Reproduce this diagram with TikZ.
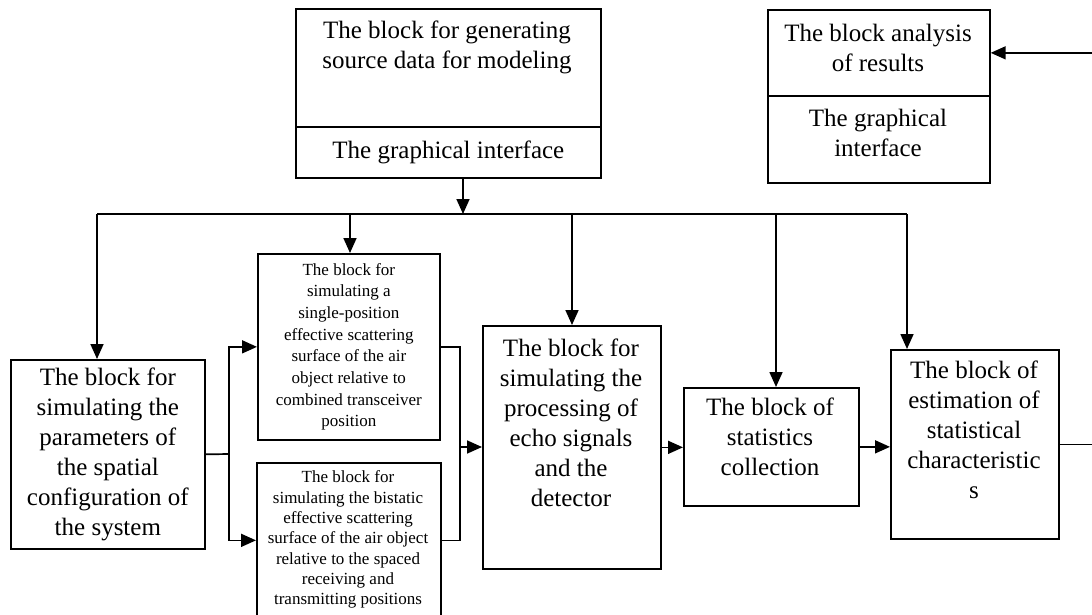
\documentclass[tikz,border=0pt]{standalone}
\usepackage{fontspec}
\setmainfont{Liberation Serif}
\usetikzlibrary{arrows.meta,positioning}

\begin{document}
\begin{tikzpicture}[
            x=1pt,
            y=-1pt,
            line width=1.7pt,
            block/.style={
                    rectangle,
                    draw=black,
                    inner sep=0pt,
                    anchor=north west
                },
            bigtext/.style={
                    align=center,
                    inner sep=0pt,
                    font=\fontsize{25}{30}\selectfont
                },
            smalltext/.style={
                    align=center,
                    inner sep=0pt,
                    font=\fontsize{17}{21.7}\selectfont
                },
            arrow/.style={
                    -{Triangle[length=15pt,width=13pt]}
                }
        ]

        \useasboundingbox (0,0) rectangle (1092,615);
        \clip (0,0) rectangle (1092,615);

        % top blocks
        \node[block, minimum width=305pt, minimum height=118pt] (gen) at (295,8) {};
        \node[bigtext, anchor=north] (gen-t) at (447,20) {The block for generating\\source data for modeling};
        \node[block, bigtext, minimum width=305pt, minimum height=51pt] (genui) at (295,126) {The graphical interface};

        \node[block, minimum width=222pt, minimum height=86pt] (ana) at (767,9) {};
        \node[bigtext, anchor=north] (ana-t) at (878,23) {The block analysis\\of results};
        \node[block, minimum width=222pt, minimum height=87pt] (anaui) at (767,95) {};
        \node[bigtext, anchor=north] (anaui-t) at (878,108) {The graphical\\interface};

        % simulation blocks
        \node[block, bigtext, minimum width=194pt, minimum height=189pt] (param) at (10,359)
            {The block for\\simulating the\\parameters of\\the spatial\\configuration of\\the system};
        \node[block, smalltext, minimum width=182pt, minimum height=186pt] (single) at (257,253)
            {The block for\\simulating a\\single-position\\effective scattering\\surface of the air\\object relative to\\combined transceiver\\position};
        \node[block, minimum width=184pt, minimum height=155pt] (bistatic) at (256,462) {};
        \node[smalltext, anchor=north, font=\fontsize{17}{20.3}\selectfont] (bistatic-t) at (348,470)
            {The block for\\simulating the bistatic\\effective scattering\\surface of the air object\\relative to the spaced\\receiving and\\transmitting positions};

        \node[block, minimum width=178pt, minimum height=243pt] (proc) at (482,325) {};
        \node[bigtext, anchor=north] (proc-t) at (571,338)
            {The block for\\simulating the\\processing of\\echo signals\\and the\\detector};
        \node[block, minimum width=175pt, minimum height=118pt] (stat) at (683,387) {};
        \node[bigtext, anchor=north] (stat-t) at (770,397) {The block of\\statistics\\collection};
        \node[block, minimum width=168pt, minimum height=189pt] (est) at (890,349) {};
        \node[bigtext, anchor=north] (est-t) at (974,360)
            {The block of\\estimation of\\statistical\\characteristic\\s};

        % distribution bus
        \coordinate (genout) at (463,177);
        \coordinate (busl) at (97,214);
        \coordinate (busr) at (907,214);
        \draw (busl) -- (busr);
        \draw[arrow] (genout) -- (genout |- busl);
        \foreach \xx/\target in {97/param, 350/single, 572/proc, 776/stat, 907/est} {
                \coordinate (drop) at (\xx,214);
                \draw[arrow] (drop) -- (drop |- \target.north);
            }

        % branch and merge
        \coordinate (splitl) at (229,454);
        \draw (param.east) -- (splitl);
        \draw[arrow] (splitl) |- (single.west);
        \draw[arrow] (splitl) |- (bistatic.west);
        \coordinate (mergel) at (460,447);
        \draw (single.east) -| (mergel);
        \draw (bistatic.east) -| (mergel);
        \draw[arrow] (mergel) -- (mergel -| proc.west);

        % chain to results
        \draw[arrow] (proc.east) -- (proc.east -| stat.west);
        \draw[arrow] (stat.east) -- (stat.east -| est.west);
        \coordinate (ret) at (1100,0);
        \draw[arrow] (est.east) -- (est.east -| ret) |- (ana.east);

    \end{tikzpicture}
\end{document}
